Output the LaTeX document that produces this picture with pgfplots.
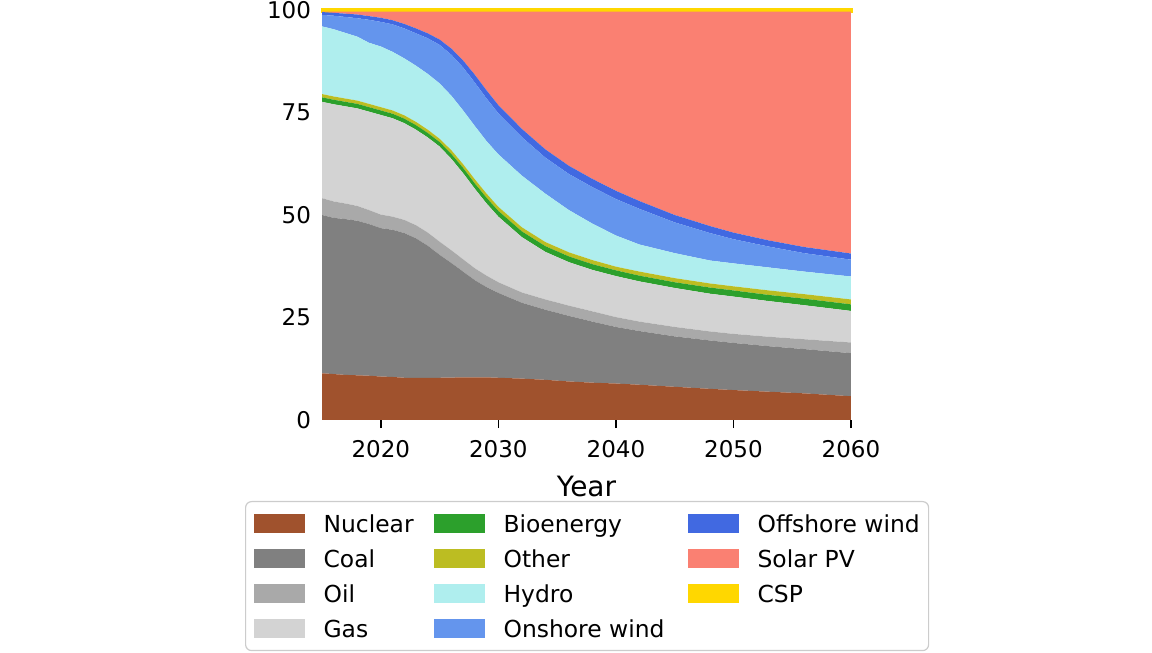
\documentclass[border=0pt]{standalone}
\usepackage{fontspec}
\setmainfont{DejaVu Sans}
\usepackage{pgfplots}
\usepackage{pgfplotstable}
\pgfplotsset{compat=1.18}
\definecolor{cNuc}{HTML}{A0522D}
\definecolor{cCoal}{HTML}{808080}
\definecolor{cOil}{HTML}{A9A9A9}
\definecolor{cGas}{HTML}{D3D3D3}
\definecolor{cBio}{HTML}{2CA02C}
\definecolor{cOth}{HTML}{BCBD22}
\definecolor{cHyd}{HTML}{AFEEEE}
\definecolor{cOn}{HTML}{6495ED}
\definecolor{cOff}{HTML}{4169E1}
\definecolor{cSol}{HTML}{FA8072}
\definecolor{cCSP}{HTML}{FFD700}
\pgfplotstableread{
year nuc coal oil gas bio oth hydro on off solar csp
2015 11.4 38.6 4.1 23.5 1.1 0.8 16.5 2.8 0.7 0.1 0.4
2016 11.2 38.1 4.0 23.7 1.1 0.8 16.4 3.3 0.7 0.3 0.4
2017 11.0 38.0 3.8 23.7 1.1 0.8 16.0 3.9 0.8 0.5 0.4
2018 10.9 37.7 3.6 23.8 1.1 0.8 15.6 4.5 0.9 0.7 0.4
2019 10.8 37.0 3.4 24.0 1.1 0.8 14.9 5.6 0.9 1.1 0.4
2020 10.6 36.2 3.3 24.3 1.1 0.8 14.8 6.0 1.0 1.5 0.4
2021 10.5 35.9 3.2 24.0 1.1 0.8 14.3 6.7 1.0 2.1 0.4
2022 10.3 35.3 3.2 23.6 1.1 0.8 13.9 7.3 1.1 3.0 0.4
2023 10.3 34.0 3.2 23.3 1.1 0.8 13.7 7.9 1.2 4.1 0.4
2024 10.3 32.2 3.2 23.2 1.1 0.8 13.6 8.7 1.2 5.3 0.4
2025 10.3 30.0 3.2 23.2 1.1 0.8 13.5 9.4 1.3 6.8 0.4
2026 10.35 27.95 3.1 22.3 1.2 0.9 13.3 10.0 1.5 9.0 0.4
2027 10.4 25.8 3.0 21.0 1.3 0.9 13.1 10.5 1.7 11.9 0.4
2028 10.4 23.7 2.9 19.4 1.3 1.0 13.0 10.6 1.9 15.4 0.4
2029 10.4 22.0 2.8 17.6 1.4 1.0 12.8 10.4 2.0 19.2 0.4
2030 10.3 20.7 2.6 16.0 1.4 1.0 12.8 10.0 2.0 22.8 0.4
2032 10.1 18.5 2.5 13.5 1.4 1.0 12.6 9.4 2.0 28.6 0.4
2034 9.8 17.1 2.5 11.6 1.4 1.0 11.8 8.8 2.0 33.6 0.4
2036 9.4 16.0 2.5 10.6 1.4 1.0 10.3 8.8 2.0 37.6 0.4
2038 9.1 14.9 2.5 10.1 1.4 1.0 8.9 8.9 2.0 40.8 0.4
2040 8.9 13.8 2.4 10.0 1.4 0.9 7.6 8.9 2.0 43.7 0.4
2042 8.6 13.1 2.3 9.8 1.4 1.0 6.6 8.7 1.9 46.2 0.4
2045 8.1 12.3 2.3 9.5 1.4 1.0 6.1 7.5 1.8 49.6 0.4
2048 7.6 11.8 2.2 9.2 1.5 1.0 5.6 6.7 1.7 52.3 0.4
2050 7.3 11.5 2.2 9.1 1.5 1.0 5.6 5.9 1.6 53.9 0.4
2053 6.9 11.1 2.3 8.7 1.5 1.1 5.6 5.1 1.5 55.8 0.4
2056 6.5 10.8 2.4 8.3 1.6 1.1 5.5 4.5 1.5 57.4 0.4
2060 5.8 10.5 2.6 7.7 1.6 1.2 5.6 4.1 1.5 59.0 0.4
}\data
\newcommand{\lt}[2]{\makebox[#1][l]{\hspace*{9.5pt}\vphantom{\rule[-6.5pt]{1pt}{17pt}}#2}}
\begin{document}
\begin{tikzpicture}
\path[use as bounding box] (0,0) rectangle (576pt,326.5pt);
\begin{axis}[
  at={(161pt,116.5pt)}, anchor=south west,
  scale only axis, width=264.5pt, height=205pt,
  xmin=2015, xmax=2060, ymin=0, ymax=100,
  enlargelimits=false, clip=false,
  stack plots=y,
  axis line style={draw=none},
  xtick={2020,2030,2040,2050,2060},
  ytick={0,25,50,75,100},
  tick align=outside,
  major tick length=4pt,
  xtick pos=bottom, ytick pos=left,
  x tick style={black, line width=0.8pt},
  y tick style={draw=none},
  /pgf/number format/assume math mode=true,
  ticklabel style={font=\fontsize{11.5}{13}\selectfont},
  xticklabel style={/pgf/number format/1000 sep={}, yshift=-2.5pt},
  yticklabel style={xshift=2pt},
  xlabel={Year},
  xlabel style={font=\fontsize{14}{16}\selectfont, at={(axis description cs:0.5,0)}, anchor=base, yshift=-38pt},
  legend columns=4, transpose legend,
  legend image code/.code={\fill[#1, draw=none, sharp corners] (0pt,-0.35pt) rectangle (25.5pt,9.15pt);},
  legend style={at={(axis description cs:-0.14556,-0.19756)}, anchor=north west,
    draw={rgb,255:red,204;green,204;blue,204}, line width=0.6pt, rounded corners=3pt,
    inner xsep=4pt, inner ysep=5pt, row sep=5.5pt,
    font=\fontsize{11.7}{13}\selectfont,
    nodes={inner sep=0pt}, cells={anchor=base west},
    /tikz/every even column/.append style={column sep=0pt}},
]
\addplot[fill=cNuc, draw=none] table[x=year,y=nuc]{\data} \closedcycle;
\addplot[fill=cCoal, draw=none] table[x=year,y=coal]{\data} \closedcycle;
\addplot[fill=cOil, draw=none] table[x=year,y=oil]{\data} \closedcycle;
\addplot[fill=cGas, draw=none] table[x=year,y=gas]{\data} \closedcycle;
\addplot[fill=cBio, draw=none] table[x=year,y=bio]{\data} \closedcycle;
\addplot[fill=cOth, draw=none] table[x=year,y=oth]{\data} \closedcycle;
\addplot[fill=cHyd, draw=none] table[x=year,y=hydro]{\data} \closedcycle;
\addplot[fill=cOn, draw=none] table[x=year,y=on]{\data} \closedcycle;
\addplot[fill=cOff, draw=none] table[x=year,y=off]{\data} \closedcycle;
\addplot[fill=cSol, draw=none] table[x=year,y=solar]{\data} \closedcycle;
\addplot[fill=cCSP, draw=cCSP, line width=1.5pt] table[x=year,y=csp]{\data} \closedcycle;
\legend{\lt{64.5pt}{Nuclear},\lt{64.5pt}{Coal},\lt{64.5pt}{Oil},\lt{64.5pt}{Gas},
        \lt{101.5pt}{Bioenergy},\lt{101.5pt}{Other},\lt{101.5pt}{Hydro},\lt{101.5pt}{Onshore wind},
        \lt{91pt}{Offshore wind},\lt{91pt}{Solar PV},\lt{91pt}{CSP}}
\end{axis}
\end{tikzpicture}
\end{document}
